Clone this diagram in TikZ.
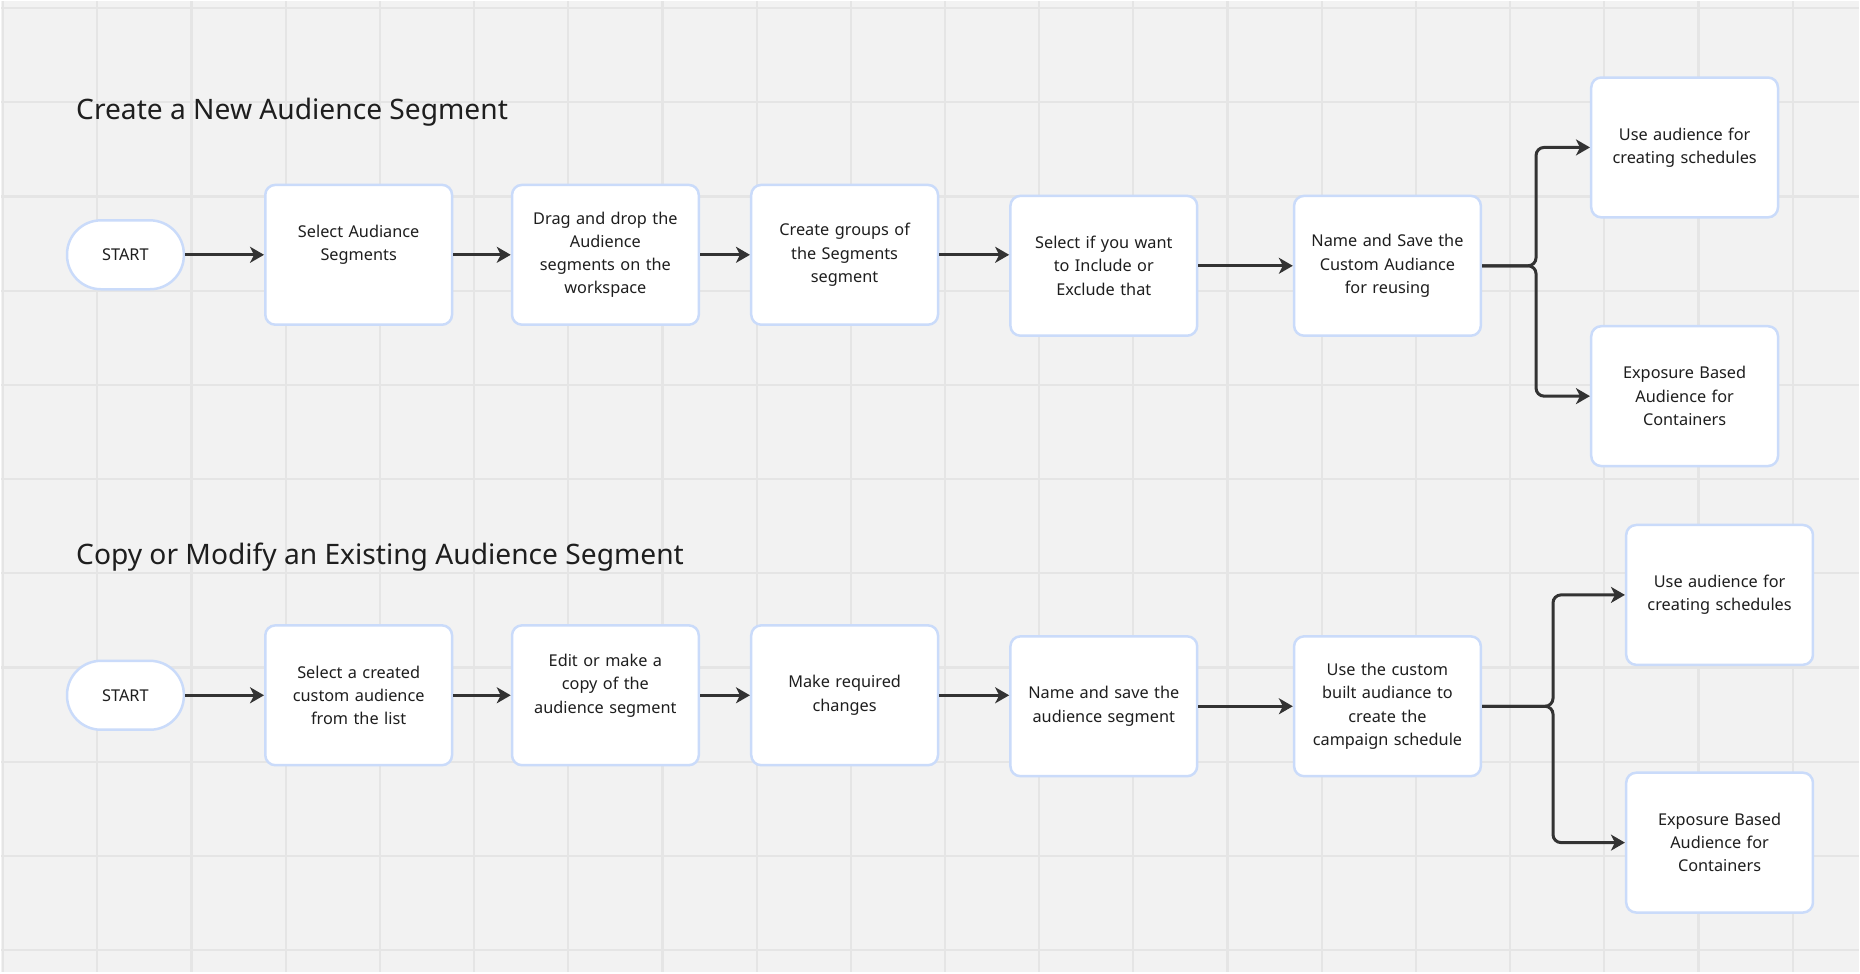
\documentclass[tikz,border=0pt]{standalone}
\usepackage{fontspec}
\setmainfont{Noto Sans}
\usetikzlibrary{arrows.meta, positioning}
\definecolor{cBg}{HTML}{F2F2F2}
\definecolor{cGrid}{HTML}{E5E5E5}
\definecolor{cBorder}{HTML}{CADBFA}
\definecolor{cText}{HTML}{1E1E1E}
\definecolor{cArrow}{HTML}{333333}
\tikzset{
  box/.style={
    rectangle, rounded corners=10pt, draw=cBorder, fill=white,
    line width=2.5pt, minimum width=187pt, minimum height=140pt,
    text width=180pt, align=center, text=cText,
    font=\fontsize{16.3}{23.3}\selectfont
  },
  startbox/.style={
    rectangle, rounded corners=34pt, draw=cBorder, fill=white,
    line width=2.5pt, minimum width=117pt, minimum height=69pt,
    text=cText, font=\fontsize{16.3}{23.3}\selectfont
  },
  arrow/.style={-{Stealth[length=14pt, width=16pt, inset=4pt]},
    line width=3pt, draw=cArrow},
  title/.style={anchor=west, inner sep=0pt, text=cText,
    font=\fontsize{28.2}{34}\selectfont},
}

\begin{document}
\begin{tikzpicture}[x=1pt, y=-1pt, node distance=60pt]

  % Canvas and grid
  \fill[cBg] (0,0) rectangle (1860,972);
  \foreach \i in {0,...,19}
    \draw[cGrid, line width=2.2pt] (2+94.3*\i,0) -- (2+94.3*\i,972);
  \foreach \j in {0,...,10}
    \draw[cGrid, line width=2.2pt] (0,7+94.3*\j) -- (1860,7+94.3*\j);

  % Section 1: create a new segment
  \node[title] (title1) at (75,111) {Create a New Audience Segment};

  \node[startbox] (start1) at (124.5,254) {START};
  \node[box, right=79pt of start1]  (sel1)  {Select Audiance\\Segments\\\mbox{}};
  \node[box, right=57.5pt of sel1]  (drag1) {Drag and drop the\\Audience\\segments on the\\workspace};
  \node[box, right=50pt of drag1]   (grp1)  {Create groups of\\the Segments\\segment};
  \node[box, right=70pt of grp1, yshift=-11pt] (incl1) {Select if you want\\to Include or\\Exclude that};
  \node[box, right=94.5pt of incl1] (save1) {Name and Save the\\Custom Audiance\\for reusing};
  \node[box, right=108pt of save1, yshift=118.5pt]  (use1) {Use audience for\\creating schedules};
  \node[box, right=108pt of save1, yshift=-130.5pt] (exp1) {Exposure Based\\Audience for\\Containers};

  \draw[arrow] (start1) -- (sel1);
  \draw[arrow] (sel1) -- (drag1);
  \draw[arrow] (drag1) -- (grp1);
  \draw[arrow] (grp1.east) -- (grp1.east -| incl1.west);
  \draw[arrow] (incl1) -- (save1);

  % branch to the two uses
  \coordinate[right=54pt of save1.east] (fork1);
  \draw[arrow, rounded corners=8pt] (save1.east) -- (fork1) |- (use1.west);
  \draw[arrow, rounded corners=8pt] (save1.east) -- (fork1) |- (exp1.west);

  % Section 2: copy or modify
  \node[title] (title2) at (75,557) {Copy or Modify an Existing Audience Segment};

  \node[startbox] (start2) at (124.5,695) {START};
  \node[box, right=79pt of start2]  (sel2)  {Select a created\\custom audience\\from the list};
  \node[box, right=57.5pt of sel2]  (edit2) {Edit or make a\\copy of the\\audience segment\\\mbox{}};
  \node[box, right=50pt of edit2]   (chg2)  {Make required\\changes};
  \node[box, right=70pt of chg2, yshift=-11pt] (save2) {Name and save the\\audience segment};
  \node[box, right=94.5pt of save2] (camp2) {Use the custom\\built audiance to\\create the\\campaign schedule};
  \node[box, right=143pt of camp2, yshift=111.5pt]  (use2) {Use audience for\\creating schedules};
  \node[box, right=143pt of camp2, yshift=-136.5pt] (exp2) {Exposure Based\\Audience for\\Containers};

  \draw[arrow] (start2) -- (sel2);
  \draw[arrow] (sel2) -- (edit2);
  \draw[arrow] (edit2) -- (chg2);
  \draw[arrow] (chg2.east) -- (chg2.east -| save2.west);
  \draw[arrow] (save2) -- (camp2);

  \coordinate[right=71pt of camp2.east] (fork2);
  \draw[arrow, rounded corners=8pt] (camp2.east) -- (fork2) |- (use2.west);
  \draw[arrow, rounded corners=8pt] (camp2.east) -- (fork2) |- (exp2.west);

\end{tikzpicture}
\end{document}
